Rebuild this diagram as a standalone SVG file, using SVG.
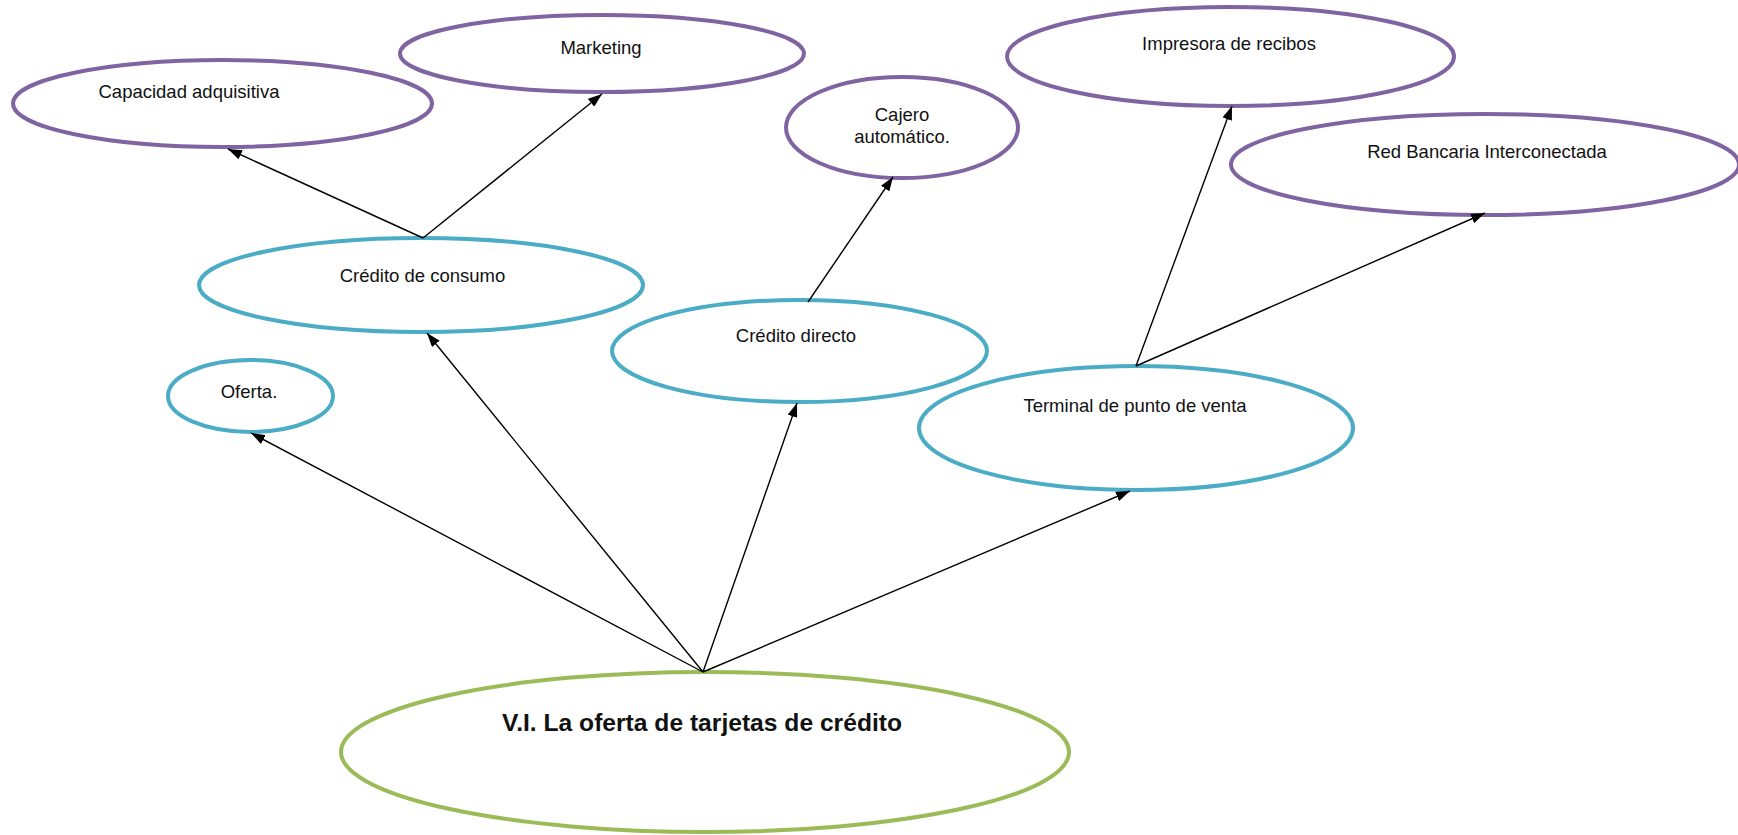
<svg xmlns="http://www.w3.org/2000/svg" width="1738" height="835" viewBox="0 0 1738 835">
  <style>
    .node { fill: #ffffff; stroke-width: 4; }
    .purple { stroke: #8064A2; }
    .blue { stroke: #4BACC6; }
    .green { stroke: #9BBB59; }
    .label { font-family: "Liberation Sans", Arial, sans-serif; font-size: 18.5px; fill: #111111; text-anchor: middle; }
    .title { font-family: "Liberation Sans", Arial, sans-serif; font-size: 24px; font-weight: bold; fill: #111111; text-anchor: middle; }
    .edge { stroke: #000000; stroke-width: 1.4; fill: none; marker-end: url(#arrow); }
  </style>
  <defs>
    <marker id="arrow" markerUnits="userSpaceOnUse" markerWidth="14" markerHeight="10" refX="14" refY="5" orient="auto">
      <path d="M0,0 L14,5 L0,10 z" fill="#000000"/>
    </marker>
  </defs>
  <rect width="1738" height="835" fill="#ffffff"/>

  <g id="node-capacidad">
    <ellipse class="node purple" cx="222.5" cy="103.5" rx="209.5" ry="43.5"/>
    <text class="label" x="189" y="98">Capacidad adquisitiva</text>
  </g>
  <g id="node-marketing">
    <ellipse class="node purple" cx="602" cy="53.5" rx="202" ry="38.5"/>
    <text class="label" x="601" y="54">Marketing</text>
  </g>
  <g id="node-cajero">
    <ellipse class="node purple" cx="902" cy="127.5" rx="116" ry="50.5"/>
    <text class="label" x="902" y="121">Cajero</text>
    <text class="label" x="902" y="143">automático.</text>
  </g>
  <g id="node-impresora">
    <ellipse class="node purple" cx="1230.5" cy="56.5" rx="223.5" ry="49.5"/>
    <text class="label" x="1229" y="50">Impresora de recibos</text>
  </g>
  <g id="node-red">
    <ellipse class="node purple" cx="1485" cy="164.5" rx="254" ry="50.5"/>
    <text class="label" x="1487" y="158">Red Bancaria Interconectada</text>
  </g>
  <g id="node-consumo">
    <ellipse class="node blue" cx="421" cy="285" rx="222" ry="47"/>
    <text class="label" x="422.5" y="282">Crédito de consumo</text>
  </g>
  <g id="node-directo">
    <ellipse class="node blue" cx="799.5" cy="351" rx="187.5" ry="51"/>
    <text class="label" x="796" y="342">Crédito directo</text>
  </g>
  <g id="node-oferta">
    <ellipse class="node blue" cx="250.5" cy="396" rx="82.5" ry="36"/>
    <text class="label" x="249" y="398">Oferta.</text>
  </g>
  <g id="node-terminal">
    <ellipse class="node blue" cx="1136" cy="428" rx="217" ry="62"/>
    <text class="label" x="1135" y="412">Terminal de punto de venta</text>
  </g>
  <g id="node-root">
    <ellipse class="node green" cx="705" cy="752" rx="364" ry="80"/>
    <text class="title" x="702" y="731" textLength="400" lengthAdjust="spacingAndGlyphs">V.I. La oferta de tarjetas de crédito</text>
  </g>

  <g id="connectors">
    <line class="edge" x1="703" y1="672" x2="251" y2="433"/>
    <line class="edge" x1="703" y1="672" x2="427" y2="333"/>
    <line class="edge" x1="703" y1="672" x2="797" y2="403"/>
    <line class="edge" x1="703" y1="672" x2="1130" y2="491"/>
    <line class="edge" x1="423" y1="238" x2="228" y2="149"/>
    <line class="edge" x1="423" y1="238" x2="602" y2="94"/>
    <line class="edge" x1="808" y1="302" x2="893" y2="177"/>
    <line class="edge" x1="1136" y1="366" x2="1232" y2="106"/>
    <line class="edge" x1="1136" y1="366" x2="1485" y2="213"/>
  </g>
</svg>
